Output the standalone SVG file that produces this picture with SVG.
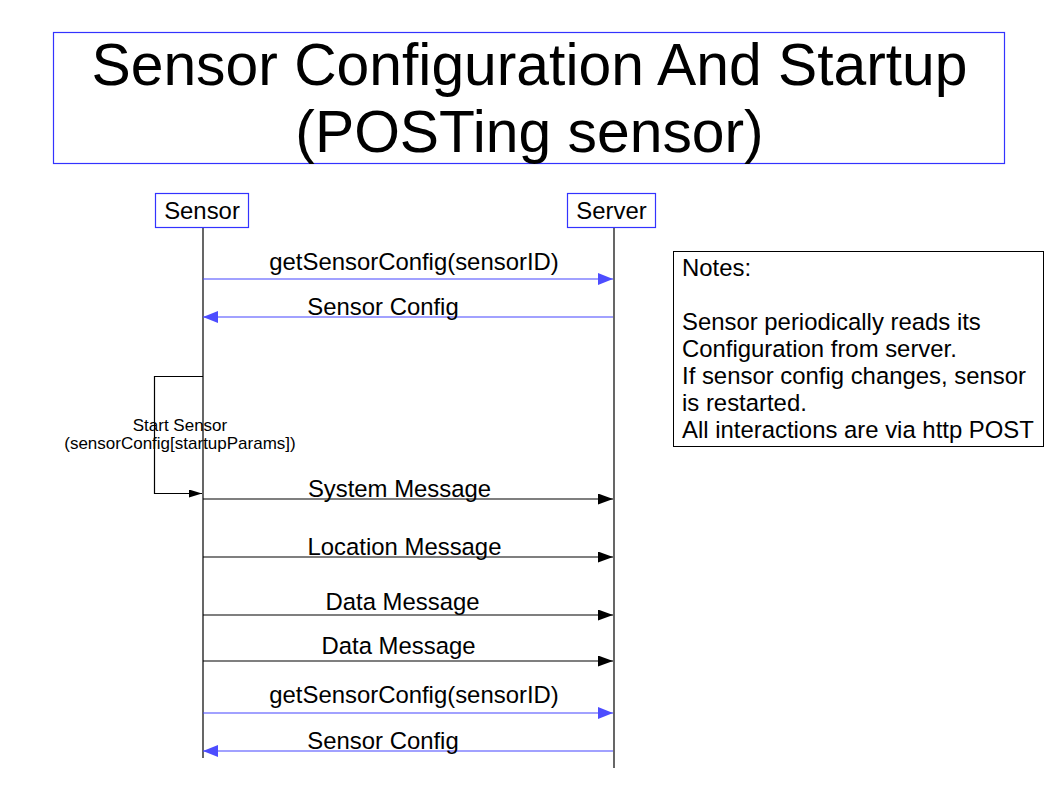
<svg xmlns="http://www.w3.org/2000/svg" width="1058" height="794" viewBox="0 0 1058 794">
<style>
text{font-family:"Liberation Sans",Arial,sans-serif;fill:#000}
.t{font-size:58.8px;text-anchor:middle}
.m{font-size:23.9px}
.c{text-anchor:middle}
.s{font-size:17px;text-anchor:middle}
.bl{stroke:#4444ff;stroke-width:1.2;fill:none}
.bk{stroke:#000;stroke-width:1.2;fill:none}
.box{fill:#fff;stroke:#3333ff;stroke-width:1.2}
</style>
<defs>
<marker id="ab" markerWidth="16" markerHeight="12" refX="15" refY="6" orient="auto" markerUnits="userSpaceOnUse"><path d="M0,0 L15,6 L0,12 z" fill="#4d4dff"/></marker>
<marker id="ak" markerWidth="16" markerHeight="12" refX="15" refY="5.5" orient="auto" markerUnits="userSpaceOnUse"><path d="M0,0 L15,5.5 L0,11 z" fill="#000"/></marker>
<marker id="as" markerWidth="14" markerHeight="8" refX="13" refY="4" orient="auto" markerUnits="userSpaceOnUse"><path d="M0,0 L13,4 L0,8 z" fill="#000"/></marker>
</defs>
<rect width="1058" height="794" fill="#fff"/>
<g id="title">
<rect class="box" x="53.5" y="32.5" width="951" height="131"/>
<text class="t" x="529.5" y="85">Sensor Configuration And Startup</text>
<text class="t" x="529.5" y="152">(POSTing sensor)</text>
</g>
<g id="lifelines">
<line class="bk" x1="203" y1="228" x2="203" y2="758"/>
<line class="bk" x1="614" y1="228" x2="614" y2="768"/>
</g>
<g id="sensor">
<rect class="box" x="155.5" y="193.5" width="93" height="34"/>
<text class="m c" x="202" y="219">Sensor</text>
</g>
<g id="server">
<rect class="box" x="567.5" y="193.5" width="88" height="34"/>
<text class="m c" x="611.5" y="219">Server</text>
</g>
<g id="notes">
<rect x="673.5" y="251.5" width="370" height="195" fill="#fff" stroke="#000" stroke-width="1"/>
<text class="m" x="682" y="276">Notes:</text>
<text class="m" x="682" y="330">Sensor periodically reads its</text>
<text class="m" x="682" y="357">Configuration from server.</text>
<text class="m" x="682" y="384">If sensor config changes, sensor</text>
<text class="m" x="682" y="411">is restarted.</text>
<text class="m" x="682" y="438">All interactions are via http POST</text>
</g>
<g id="connectors">
<line class="bl" x1="203" y1="279" x2="613" y2="279" marker-end="url(#ab)"/>
<line class="bl" x1="613" y1="317" x2="203" y2="317" marker-end="url(#ab)"/>
<polyline class="bk" points="203,376.5 154.5,376.5 154.5,493.5 202,493.5" marker-end="url(#as)"/>
<line class="bk" x1="203" y1="499" x2="613" y2="499" marker-end="url(#ak)"/>
<line class="bk" x1="203" y1="557" x2="613" y2="557" marker-end="url(#ak)"/>
<line class="bk" x1="203" y1="615" x2="613" y2="615" marker-end="url(#ak)"/>
<line class="bk" x1="203" y1="661" x2="613" y2="661" marker-end="url(#ak)"/>
<line class="bl" x1="203" y1="713" x2="613" y2="713" marker-end="url(#ab)"/>
<line class="bl" x1="613" y1="751" x2="203" y2="751" marker-end="url(#ab)"/>
</g>
<g id="labels">
<text class="m c" x="414" y="270">getSensorConfig(sensorID)</text>
<text class="m c" x="383" y="315">Sensor Config</text>
<text class="s" x="180" y="431">Start Sensor</text>
<text class="s" x="180" y="449">(sensorConfig[startupParams])</text>
<text class="m c" x="399.5" y="497">System Message</text>
<text class="m c" x="404.5" y="555">Location Message</text>
<text class="m c" x="402.5" y="610">Data Message</text>
<text class="m c" x="398.5" y="654">Data Message</text>
<text class="m c" x="414" y="703">getSensorConfig(sensorID)</text>
<text class="m c" x="383" y="749">Sensor Config</text>
</g>
</svg>
